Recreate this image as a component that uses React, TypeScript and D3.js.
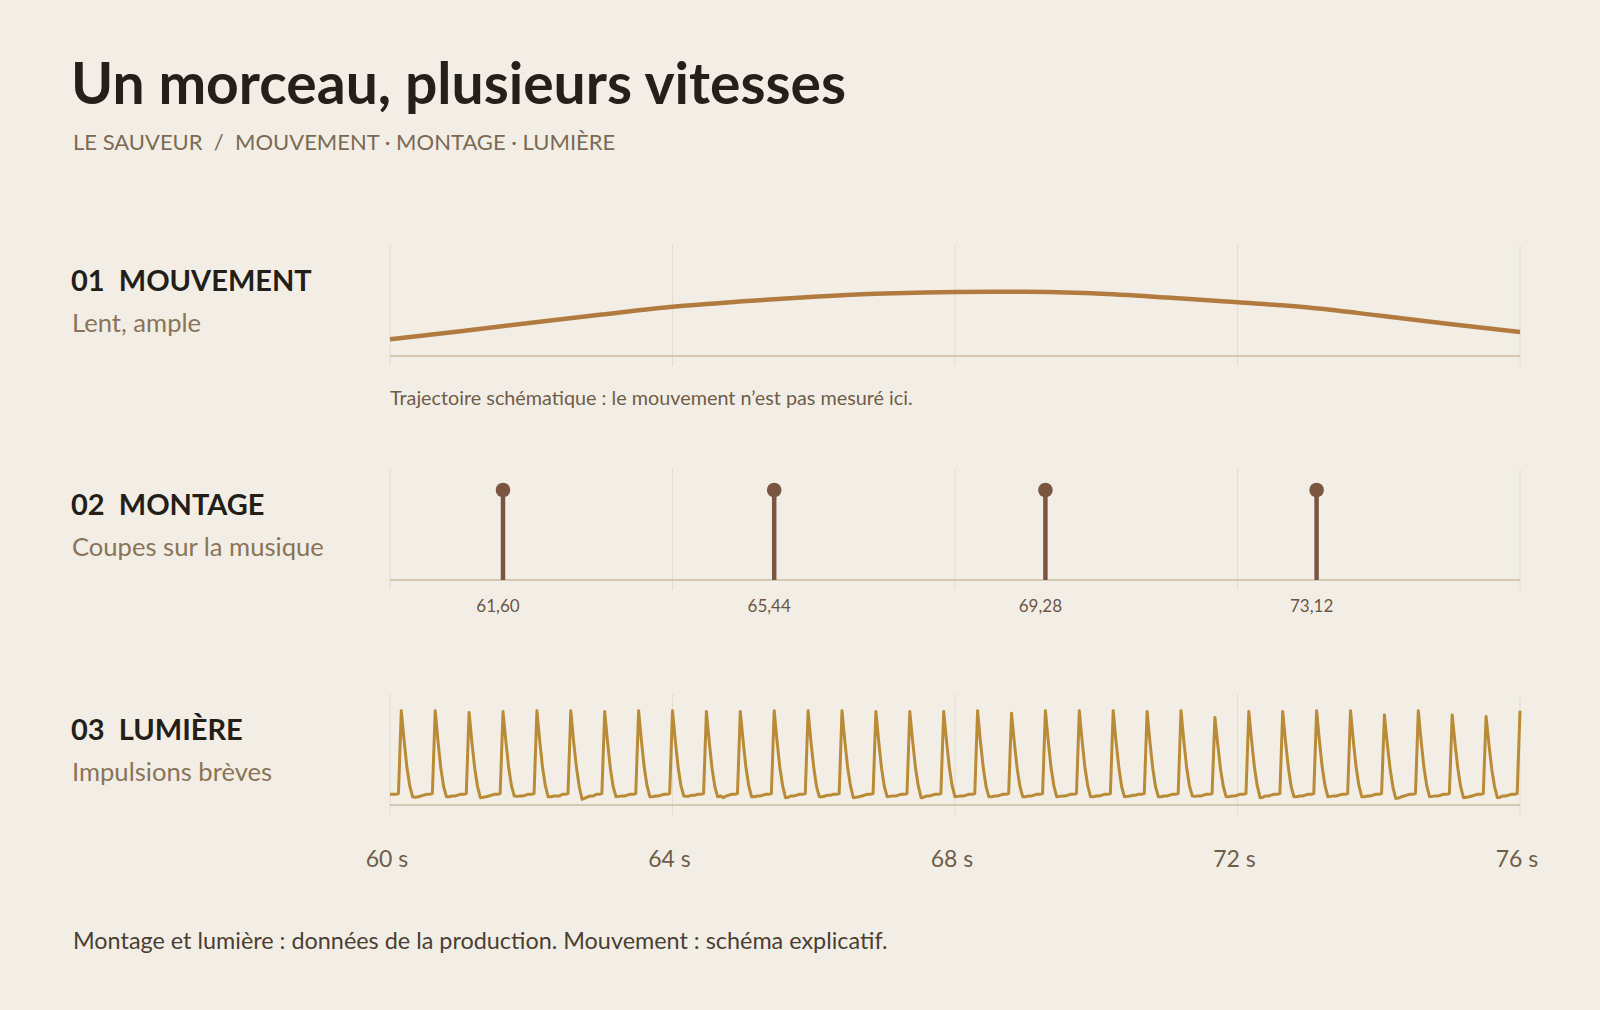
import React, { useEffect, useRef } from "react";
import * as d3 from "d3";

// time axis (seconds)
const timeTicks = [60, 64, 68, 72, 76];

// panel headings
const panelNumbers = ["01", "02", "03"];
const panelNames = ["MOUVEMENT", "MONTAGE", "LUMIÈRE"];
const panelSubs = ["Lent, ample", "Coupes sur la musique", "Impulsions brèves"];

// 01 movement: schematic trajectory, one point per second
const movementTimes = [60, 61, 62, 63, 64, 65, 66, 67, 68, 69, 70, 71, 72, 73, 74, 75, 76];
const movementLevels = [
  0.15, 0.223, 0.3, 0.374, 0.444, 0.493, 0.534, 0.563, 0.577, 0.578, 0.562, 0.526, 0.484, 0.437,
  0.365, 0.288, 0.216,
];

// 02 cuts
const cutTimes = [61.6, 65.44, 69.28, 73.12];
const cutLabels = ["61,60", "65,44", "69,28", "73,12"];

// 03 light: samples every 0.04 s from 60 s, one row per pulse
const lightStart = 60;
const lightStep = 0.04;
const lightLevels: number[][] = [
  [0, 0, 0],
  [0.01, 1.0, 0.64, 0.32, 0.1, -0.03, -0.035, -0.03, -0.02, -0.01, 0, 0],
  [0.01, 1.0, 0.63, 0.31, 0.09, -0.03, -0.03, -0.02, -0.02, -0.01, 0, 0],
  [0.01, 0.98, 0.62, 0.31, 0.09, -0.04, -0.035, -0.03, -0.02, -0.01, 0, 0],
  [0.01, 0.99, 0.64, 0.32, 0.1, -0.02, -0.025, -0.02, -0.02, -0.01, 0, 0],
  [0.01, 1.0, 0.64, 0.32, 0.1, -0.03, -0.03, -0.02, -0.02, -0.02, 0, 0],
  [0.01, 1.0, 0.63, 0.32, 0.09, -0.06, -0.045, -0.03, -0.02, -0.02, 0, 0],
  [0.01, 0.99, 0.63, 0.31, 0.09, -0.03, -0.025, -0.02, -0.02, -0.01, 0, 0],
  [0.01, 1.0, 0.64, 0.32, 0.1, -0.03, -0.03, -0.02, -0.02, -0.01, 0, 0],
  [0.01, 1.0, 0.64, 0.32, 0.1, -0.02, -0.025, -0.02, -0.01, -0.01, 0, 0],
  [0.01, 0.99, 0.63, 0.31, 0.09, -0.03, -0.02, -0.04, -0.02, -0.01, 0, 0],
  [0.01, 0.99, 0.64, 0.32, 0.1, -0.03, -0.03, -0.02, -0.02, -0.01, 0, 0],
  [0.01, 1.0, 0.64, 0.32, 0.1, -0.04, -0.035, -0.02, -0.02, -0.01, 0, 0],
  [0.01, 1.0, 0.63, 0.32, 0.09, -0.03, -0.03, -0.02, -0.01, -0.01, 0, 0],
  [0.01, 1.0, 0.64, 0.32, 0.1, -0.04, -0.035, -0.03, -0.02, -0.01, 0, 0],
  [0.01, 0.99, 0.63, 0.31, 0.09, -0.03, -0.025, -0.02, -0.02, -0.01, 0, 0],
  [0.01, 0.99, 0.64, 0.32, 0.1, -0.04, -0.035, -0.02, -0.02, -0.01, 0, 0],
  [0.01, 0.99, 0.64, 0.32, 0.1, -0.03, -0.025, -0.02, -0.02, -0.01, 0, 0],
  [0.01, 1.0, 0.63, 0.32, 0.09, -0.03, -0.03, -0.02, -0.02, -0.01, 0, 0],
  [0.01, 0.97, 0.62, 0.31, 0.09, -0.03, -0.03, -0.02, -0.02, -0.01, 0, 0],
  [0.01, 1.0, 0.64, 0.32, 0.1, -0.03, -0.025, -0.02, -0.02, -0.01, 0, 0],
  [0.01, 1.0, 0.64, 0.32, 0.1, -0.03, -0.03, -0.02, -0.02, -0.01, 0, 0],
  [0.01, 1.0, 0.63, 0.32, 0.09, -0.03, -0.025, -0.02, -0.01, -0.01, 0, 0],
  [0.01, 0.99, 0.63, 0.31, 0.09, -0.03, -0.03, -0.02, -0.02, -0.01, 0, 0],
  [0.01, 1.0, 0.64, 0.32, 0.1, -0.02, -0.025, -0.02, -0.02, -0.01, 0, 0],
  [0.01, 0.92, 0.6, 0.3, 0.09, -0.03, -0.03, -0.02, -0.02, -0.01, 0, 0],
  [0.01, 0.99, 0.64, 0.32, 0.1, -0.04, -0.035, -0.02, -0.02, -0.01, 0, 0],
  [0.01, 0.99, 0.63, 0.32, 0.09, -0.03, -0.03, -0.02, -0.02, -0.01, 0, 0],
  [0.01, 1.0, 0.64, 0.32, 0.1, -0.03, -0.025, -0.02, -0.02, -0.01, 0, 0],
  [0.01, 1.0, 0.64, 0.32, 0.1, -0.03, -0.03, -0.02, -0.02, -0.01, 0, 0],
  [0.01, 0.95, 0.61, 0.31, 0.09, -0.05, -0.045, -0.03, -0.02, -0.01, 0, 0],
  [0.01, 1.0, 0.64, 0.32, 0.1, -0.03, -0.025, -0.02, -0.02, -0.01, 0, 0],
  [0.01, 0.95, 0.61, 0.31, 0.09, -0.04, -0.035, -0.03, -0.02, -0.01, 0, 0],
  [0.01, 0.93, 0.6, 0.3, 0.09, -0.04, -0.035, -0.02, -0.02, -0.01, 0, 0],
  [0.01, 1.0],
];

const FONT = "Lato, 'Open Sans', sans-serif";

const App: React.FC = () => {
  const svgRef = useRef<SVGSVGElement | null>(null);

  useEffect(() => {
    document.body.style.margin = "0";
    document.body.style.background = "#f3eee5";

    const svg = d3.select(svgRef.current);
    svg.selectAll("*").remove();

    const w = 1600;
    const h = 1010;
    const left = 390;
    const right = 1520;
    const panelTops = [245, 469, 694];
    const panelH = 111;

    svg.attr("width", w).attr("height", h).style("background-color", "#f3eee5").style("display", "block");

    svg.append("rect").attr("width", w).attr("height", h).attr("fill", "#f3eee5");

    // title
    svg.append("text")
      .attr("x", 71)
      .attr("y", 104)
      .style("font-family", FONT)
      .style("font-weight", 700)
      .style("font-size", "57px")
      .attr("fill", "#241f18")
      .text("Un morceau, plusieurs vitesses");

    svg.append("text")
      .attr("x", 73)
      .attr("y", 150)
      .style("font-family", FONT)
      .style("font-size", "22px")
      .attr("fill", "#7b6a53")
      .attr("xml:space", "preserve")
      .text("LE SAUVEUR  /  MOUVEMENT · MONTAGE · LUMIÈRE");

    const x = d3.scaleLinear().domain([60, 76]).range([left, right]);

    panelTops.forEach((top, i) => {
      const axisY = top + panelH;
      const g = svg.append("g");

      // vertical gridlines
      g.selectAll("line.grid")
        .data(timeTicks)
        .enter()
        .append("line")
        .attr("class", "grid")
        .attr("x1", d => x(d))
        .attr("x2", d => x(d))
        .attr("y1", top)
        .attr("y2", axisY + 10)
        .attr("stroke", "#e4dccd")
        .attr("stroke-width", 1);

      // baseline
      g.append("line")
        .attr("x1", left)
        .attr("x2", right)
        .attr("y1", axisY)
        .attr("y2", axisY)
        .attr("stroke", "#d5c8b3")
        .attr("stroke-width", 2);

      // heading
      g.append("text")
        .attr("x", 71)
        .attr("y", top + 46)
        .style("font-family", FONT)
        .style("font-weight", 700)
        .style("font-size", "29px")
        .attr("fill", "#231e17")
        .attr("xml:space", "preserve")
        .text(`${panelNumbers[i]}  ${panelNames[i]}`);

      g.append("text")
        .attr("x", 72)
        .attr("y", top + 87)
        .style("font-family", FONT)
        .style("font-size", "25.6px")
        .attr("fill", "#8a7457")
        .text(panelSubs[i]);
    });

    // 01 movement
    const yMove = d3.scaleLinear().domain([0, 1]).range([panelTops[0] + panelH, panelTops[0]]);
    const moveLine = d3.line<number>()
      .x((_, i) => x(movementTimes[i]))
      .y(d => yMove(d))
      .curve(d3.curveMonotoneX);
    svg.append("path")
      .datum(movementLevels)
      .attr("d", moveLine)
      .attr("fill", "none")
      .attr("stroke", "#b17b40")
      .attr("stroke-width", 4.5);

    svg.append("text")
      .attr("x", left)
      .attr("y", 405)
      .style("font-family", FONT)
      .style("font-size", "19.8px")
      .attr("fill", "#6e5d49")
      .text("Trajectoire schématique : le mouvement n’est pas mesuré ici.");

    // 02 cuts
    const cutTop = panelTops[1];
    const cutAxis = cutTop + panelH;
    const cuts = svg.append("g");
    cuts.selectAll("line.stem")
      .data(cutTimes)
      .enter()
      .append("line")
      .attr("class", "stem")
      .attr("x1", d => x(d))
      .attr("x2", d => x(d))
      .attr("y1", cutAxis)
      .attr("y2", cutTop + 21)
      .attr("stroke", "#7a5641")
      .attr("stroke-width", 4.5);
    cuts.selectAll("circle")
      .data(cutTimes)
      .enter()
      .append("circle")
      .attr("cx", d => x(d))
      .attr("cy", cutTop + 21)
      .attr("r", 7.3)
      .attr("fill", "#7a5641");
    cuts.selectAll("text")
      .data(cutTimes)
      .enter()
      .append("text")
      .attr("x", d => x(d) - 5)
      .attr("y", cutAxis + 32)
      .attr("text-anchor", "middle")
      .style("font-family", FONT)
      .style("font-size", "17px")
      .attr("fill", "#6b5646")
      .text((_, i) => cutLabels[i]);

    // 03 light
    const lightTop = panelTops[2];
    const yLight = d3.scaleLinear().domain([-0.14, 1.2]).range([lightTop + panelH + 1, lightTop]);
    const lightSeries = lightLevels.flat();
    const lightLine = d3.line<number>()
      .x((_, i) => x(lightStart + i * lightStep))
      .y(d => yLight(d));
    svg.append("path")
      .datum(lightSeries)
      .attr("d", lightLine)
      .attr("fill", "none")
      .attr("stroke", "#b98b37")
      .attr("stroke-width", 3)
      .attr("stroke-linejoin", "round");

    // time axis labels
    svg.append("g")
      .selectAll("text")
      .data(timeTicks)
      .enter()
      .append("text")
      .attr("x", d => x(d) - 3)
      .attr("y", 867)
      .attr("text-anchor", "middle")
      .style("font-family", FONT)
      .style("font-size", "23px")
      .attr("fill", "#6e5d49")
      .text(d => `${d} s`);

    // footer
    svg.append("text")
      .attr("x", 73)
      .attr("y", 949)
      .style("font-family", FONT)
      .style("font-size", "23.4px")
      .attr("fill", "#4a3f33")
      .text("Montage et lumière : données de la production. Mouvement : schéma explicatif.");
  }, []);

  return (
    <div style={{ width: 1600, height: 1010 }}>
      <svg ref={svgRef}></svg>
    </div>
  );
};

export default App;
